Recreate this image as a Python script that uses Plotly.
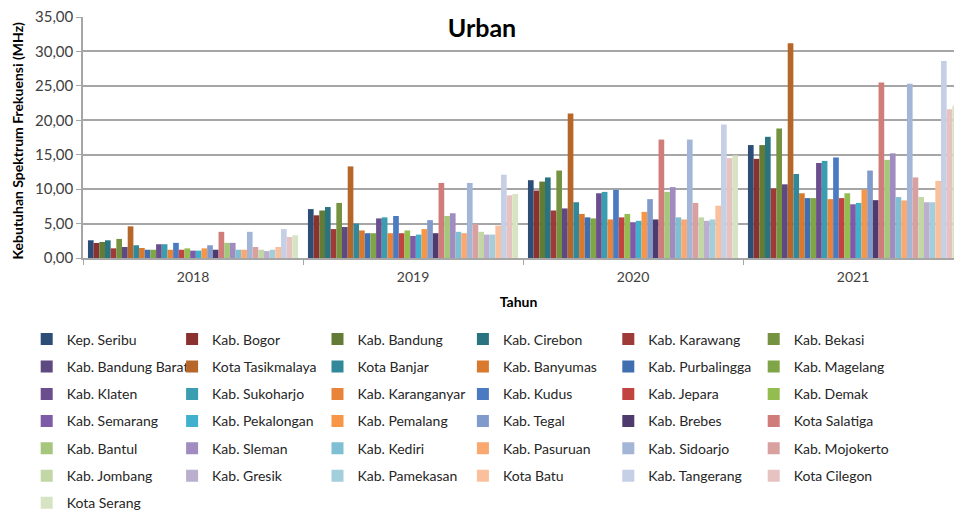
import plotly.graph_objects as go

years = ["2018", "2019", "2020", "2021"]

regions = [
    "Kep. Seribu", "Kab. Bogor", "Kab. Bandung", "Kab. Cirebon", "Kab. Karawang", "Kab. Bekasi",
    "Kab. Bandung Barat", "Kota Tasikmalaya", "Kota Banjar", "Kab. Banyumas", "Kab. Purbalingga", "Kab. Magelang",
    "Kab. Klaten", "Kab. Sukoharjo", "Kab. Karanganyar", "Kab. Kudus", "Kab. Jepara", "Kab. Demak",
    "Kab. Semarang", "Kab. Pekalongan", "Kab. Pemalang", "Kab. Tegal", "Kab. Brebes", "Kota Salatiga",
    "Kab. Bantul", "Kab. Sleman", "Kab. Kediri", "Kab. Pasuruan", "Kab. Sidoarjo", "Kab. Mojokerto",
    "Kab. Jombang", "Kab. Gresik", "Kab. Pamekasan", "Kota Batu", "Kab. Tangerang", "Kota Cilegon",
    "Kota Serang",
]

colors = [
    "#2C4D75", "#8B3230", "#627C35", "#2A7380", "#9E3A38", "#74923F",
    "#5E4A80", "#B7662A", "#31889A", "#D9792E", "#3F6FB0", "#7FA547",
    "#6B4E8E", "#3A9DB0", "#E8843A", "#4A7BC2", "#C24441", "#93BE4F",
    "#7D5BA6", "#40B0CC", "#F79646", "#7F9ACB", "#4F3A6D", "#CF7C7A",
    "#A6C57D", "#A08CBE", "#7FBFD3", "#F9A870", "#A3B6D8", "#D9A0A0",
    "#C2D6A6", "#BBAFCE", "#A3CFDD", "#FAC09C", "#C5D0E6", "#E6C2C1",
    "#D7E4C4",
]

val_2018 = [
    2.57, 2.18, 2.33, 2.57, 1.40, 2.77, 1.60, 4.60, 1.85, 1.45, 1.20, 1.20,
    2.00, 2.00, 1.20, 2.20, 1.20, 1.40, 1.07, 1.07, 1.40, 1.85, 1.20, 3.80,
    2.20, 2.20, 1.20, 1.20, 3.80, 1.60, 1.20, 1.00, 1.20, 1.60, 4.20, 3.05,
    3.30,
]
val_2019 = [
    7.10, 6.20, 6.90, 7.40, 4.20, 8.00, 4.50, 13.30, 5.00, 4.00, 3.60, 3.60,
    5.75, 5.90, 3.60, 6.10, 3.60, 4.00, 3.20, 3.40, 4.20, 5.50, 3.60, 10.90,
    6.10, 6.50, 3.80, 3.60, 10.90, 4.90, 3.80, 3.40, 3.40, 4.70, 12.10, 9.10,
    9.30,
]
val_2020 = [
    11.30, 9.80, 11.10, 11.70, 6.90, 12.70, 7.20, 21.00, 8.10, 6.40, 5.90, 5.75,
    9.40, 9.60, 5.60, 9.90, 5.90, 6.40, 5.20, 5.40, 6.70, 8.55, 5.60, 17.20,
    9.60, 10.30, 5.90, 5.60, 17.20, 8.00, 5.90, 5.40, 5.60, 7.60, 19.40, 14.50,
    14.90,
]
val_2021 = [
    16.40, 14.40, 16.40, 17.60, 10.10, 18.80, 10.70, 31.20, 12.20, 9.40, 8.70, 8.70,
    13.80, 14.10, 8.55, 14.60, 8.70, 9.40, 7.80, 8.00, 9.90, 12.70, 8.40, 25.50,
    14.25, 15.20, 8.85, 8.36, 25.30, 11.70, 8.85, 8.10, 8.10, 11.20, 28.60, 21.60,
    22.10,
]

FONT = "Lato"
PER_ROW = 6
W, H = 954, 510
row_centers = [340, 367.5, 395, 422, 449.5, 477, 504]  # legend row centres, px from top
plot_left, plot_top, plot_bottom = 83, 16.7, 258.3

fig = go.Figure()

for i, name in enumerate(regions):
    legend_id = "legend" if i < PER_ROW else f"legend{i // PER_ROW + 1}"
    fig.add_trace(
        go.Bar(
            name=name,
            x=years,
            y=[val_2018[i], val_2019[i], val_2020[i], val_2021[i]],
            marker=dict(color=colors[i], line=dict(width=0)),
            legend=legend_id,
        )
    )

legend_common = dict(
    orientation="h",
    xref="container",
    x=26.7 / W,
    xanchor="left",
    yanchor="middle",
    entrywidth=100.4,
    entrywidthmode="pixels",
    font=dict(family=FONT, size=14, color="#262626"),
    bgcolor="rgba(0,0,0,0)",
    itemclick=False,
)
legends = {}
for r, yc in enumerate(row_centers):
    key = "legend" if r == 0 else f"legend{r + 1}"
    legends[key] = dict(legend_common, y=(plot_bottom - yc) / (plot_bottom - plot_top))

plot_w = W - plot_left
plot_h = plot_bottom - plot_top

fig.update_layout(
    width=W,
    height=H,
    margin=dict(l=plot_left, r=0, t=plot_top, b=H - plot_bottom, autoexpand=False),
    paper_bgcolor="white",
    plot_bgcolor="white",
    barmode="group",
    bargap=0.045,
    bargroupgap=0,
    separators=",.",
    font=dict(family=FONT, size=13, color="#404040"),
    title=dict(
        text="<b>Urban</b>",
        x=482 / W,
        xanchor="center",
        y=1 - 28 / H,
        yanchor="middle",
        font=dict(family=FONT, size=25, color="#000000"),
    ),
    showlegend=True,
    **legends,
)

# y-axis title as a rotated annotation so it sits at a fixed spot left of the tick labels
fig.add_annotation(
    text="<b>Kebutuhan Spektrum Frekuensi (MHz)</b>",
    xref="paper",
    yref="paper",
    x=(17 - plot_left) / plot_w,
    y=(plot_bottom - 140.5) / plot_h,
    xanchor="center",
    yanchor="middle",
    textangle=-90,
    showarrow=False,
    font=dict(family=FONT, size=14, color="#000000"),
)

fig.update_xaxes(
    range=[-0.5, 3.5 - 9 / 220],
    showline=True,
    linecolor="#A6A6A6",
    linewidth=1.5,
    ticks="outside",
    tickson="boundaries",
    ticklen=5,
    tickcolor="#A6A6A6",
    ticklabelstandoff=5,
    showgrid=False,
    tickfont=dict(family=FONT, size=14, color="#404040"),
    title=dict(text="<b>Tahun</b>", font=dict(family=FONT, size=14, color="#000000"), standoff=14),
)
fig.update_yaxes(
    range=[0, 35],
    dtick=5,
    tickformat=".2f",
    showline=True,
    linecolor="#A6A6A6",
    linewidth=1.5,
    ticks="outside",
    ticklen=5,
    tickcolor="#A6A6A6",
    ticklabeloverflow="allow",
    showgrid=True,
    gridcolor="#A6A6A6",
    gridwidth=1.5,
    zeroline=False,
    tickfont=dict(family=FONT, size=15, color="#404040"),
)

# drop the default 8px page margin so the 954x510 figure fills the window exactly
fig.write_html(
    "out.html",
    config={"displayModeBar": False},
    post_script="document.body.style.margin = '0';",
)
